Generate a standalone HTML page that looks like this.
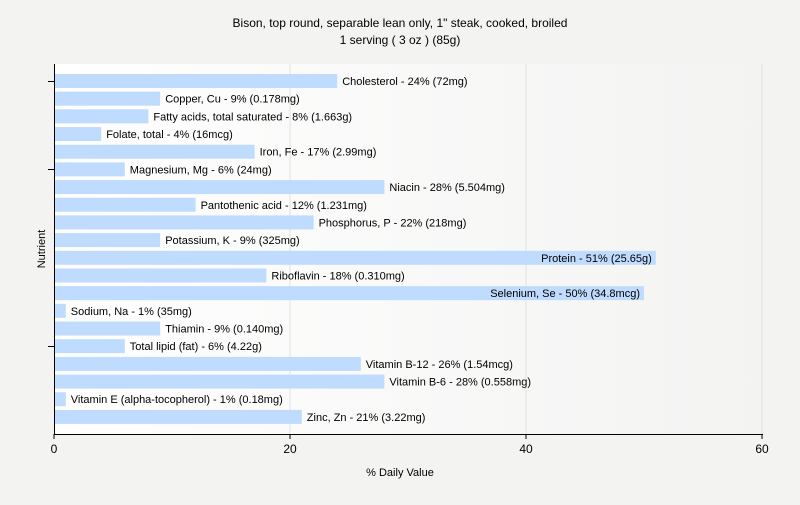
<!DOCTYPE html>
<html><head><meta charset="utf-8"><style>
body{margin:0;background:#f3f3f2;font-family:"Liberation Sans",sans-serif}
svg text{font-family:"Liberation Sans",sans-serif;fill:#000}
</style></head><body>
<svg width="800" height="500" xmlns="http://www.w3.org/2000/svg">
<defs><linearGradient id="bg" x1="0" x2="1" y1="0" y2="0"><stop offset="0" stop-color="#ffffff"/><stop offset="1" stop-color="#f3f3f2"/></linearGradient></defs>
<rect x="0" y="0" width="800" height="500" fill="#f3f3f2"/>
<rect x="54" y="64" width="708" height="370" fill="url(#bg)"/>
<text x="400" y="27" font-size="12" text-anchor="middle">Bison, top round, separable lean only, 1" steak, cooked, broiled</text>
<text x="400" y="44" font-size="12" text-anchor="middle">1 serving ( 3 oz ) (85g)</text>
<g id="grid"></g><g id="bars"></g><g id="axes"></g>
<text x="400" y="476" font-size="11" text-anchor="middle">% Daily Value</text>
<text transform="translate(45,249) rotate(-90)" font-size="11" text-anchor="middle">Nutrient</text>
</svg>
<script>
const categories=["Cholesterol","Copper, Cu","Fatty acids, total saturated","Folate, total","Iron, Fe","Magnesium, Mg","Niacin","Pantothenic acid","Phosphorus, P","Potassium, K","Protein","Riboflavin","Selenium, Se","Sodium, Na","Thiamin","Total lipid (fat)","Vitamin B-12","Vitamin B-6","Vitamin E (alpha-tocopherol)","Zinc, Zn"];
const values=[24,9,8,4,17,6,28,12,22,9,51,18,50,1,9,6,26,28,1,21];
const amounts=["72mg","0.178mg","1.663g","16mcg","2.99mg","24mg","5.504mg","1.231mg","218mg","325mg","25.65g","0.310mg","34.8mcg","35mg","0.140mg","4.22g","1.54mcg","0.558mg","0.18mg","3.22mg"];
const xTicks=[0,20,40,60];
const NS="http://www.w3.org/2000/svg";
const x=v=>54+v*(708/60);
const y=i=>81+i*17.68;
function mk(t,a,p){const e=document.createElementNS(NS,t);for(const k in a)e.setAttribute(k,a[k]);p.appendChild(e);return e;}
const grid=document.getElementById('grid'),bars=document.getElementById('bars'),axes=document.getElementById('axes');
xTicks.forEach(t=>{if(t>0){const g=mk('line',{x1:x(t),x2:x(t),y1:64,y2:434,stroke:'#e2e2e2'},grid);

}
const tk=mk('line',{x1:x(t),x2:x(t),y1:434,y2:439,stroke:'#000'},axes);


const tl=mk('text',{x:x(t),y:453,'font-size':12,'text-anchor':'middle'},axes);tl.textContent=t;

});
categories.forEach((c,i)=>{const w=x(values[i])-55;
const r=mk('rect',{x:55,y:y(i)-7,width:Math.max(w,0),height:14,fill:'#bfdbfd'},bars);


const lab=c+' - '+values[i]+'% ('+amounts[i]+')';
const inside=values[i]>45;
const t=mk('text',{x:inside?x(values[i])-4:x(values[i])+5,y:y(i)+4,'font-size':11,'text-anchor':inside?'end':'start'},bars);t.textContent=lab;

});
const ax=mk('line',{x1:54.5,x2:54.5,y1:64,y2:434,stroke:'#000'},axes);


const bx=mk('line',{x1:54,x2:763,y1:434.5,y2:434.5,stroke:'#000'},axes);


[0,5,15].forEach(i=>{const l=mk('line',{x1:48,x2:54,y1:Math.round(y(i))+.5,y2:Math.round(y(i))+.5,stroke:'#000'},axes);

});
</script>
</body></html>
